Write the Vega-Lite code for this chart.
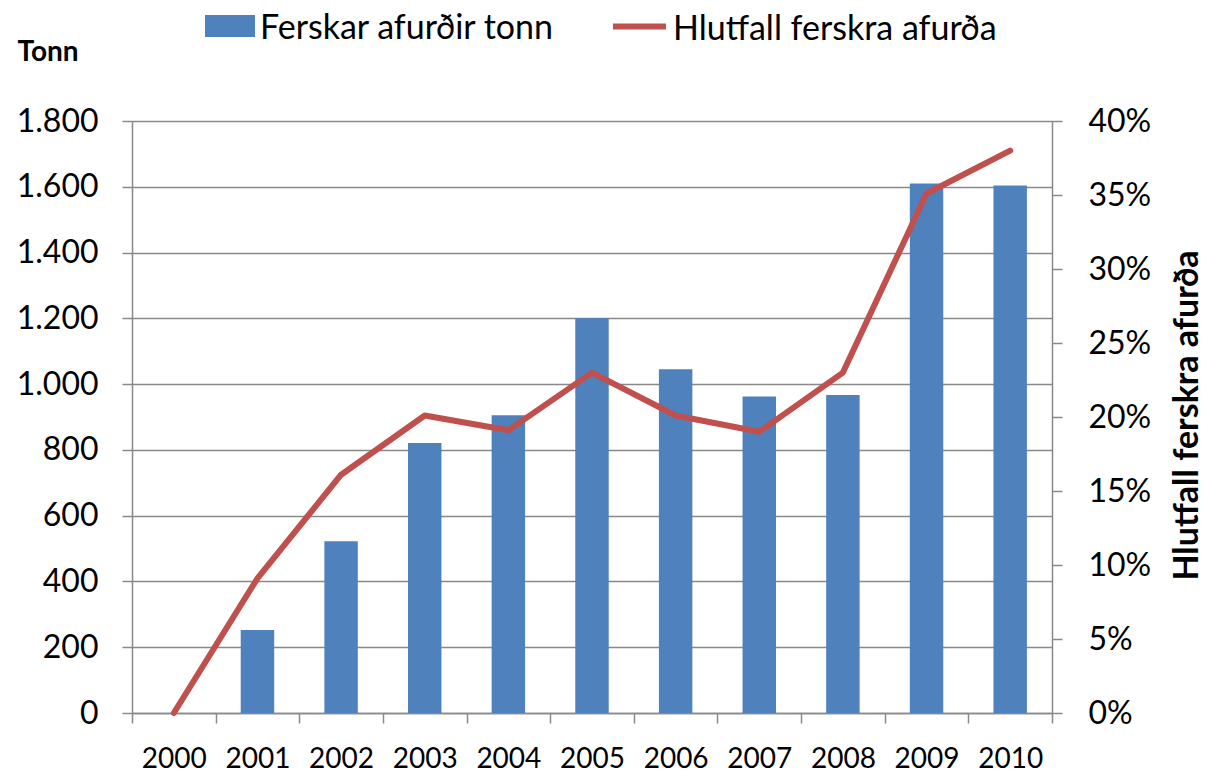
{
  "$schema": "https://vega.github.io/schema/vega-lite/v6.json",
  "autosize": {"type": "none"},
  "padding": {"left": 132, "top": 121, "right": 153, "bottom": 62},
  "width": 920,
  "height": 592,
  "config": {
    "locale": {"number": {"decimal": ",", "thousands": ".", "grouping": [3], "currency": ["", ""]}},
    "font": "Lato",
    "view": {"stroke": null},
    "axis": {
      "domainColor": "#898989",
      "domainWidth": 1.5,
      "tickColor": "#898989",
      "tickWidth": 1.5,
      "gridColor": "#898989",
      "gridWidth": 1.5,
      "labelColor": "#000000",
      "titleColor": "#000000",
      "labelFont": "Lato",
      "titleFont": "Lato"
    },
    "legend": {"labelFont": "Lato", "labelColor": "#000000", "labelLimit": 0}
  },
  "data": {
    "values": [
      {"ar": "2000", "tonn": 0, "hlutfall": 0.0},
      {"ar": "2001", "tonn": 252, "hlutfall": 0.091},
      {"ar": "2002", "tonn": 522, "hlutfall": 0.161},
      {"ar": "2003", "tonn": 821, "hlutfall": 0.201},
      {"ar": "2004", "tonn": 905, "hlutfall": 0.191},
      {"ar": "2005", "tonn": 1200, "hlutfall": 0.230},
      {"ar": "2006", "tonn": 1045, "hlutfall": 0.201},
      {"ar": "2007", "tonn": 962, "hlutfall": 0.190},
      {"ar": "2008", "tonn": 967, "hlutfall": 0.230},
      {"ar": "2009", "tonn": 1610, "hlutfall": 0.351},
      {"ar": "2010", "tonn": 1604, "hlutfall": 0.380}
    ]
  },
  "layer": [
    {
      "mark": {"type": "bar", "width": {"band": 0.4}, "color": "#4F81BD"},
      "encoding": {
        "x": {
          "field": "ar",
          "type": "ordinal",
          "scale": {"paddingInner": 0, "paddingOuter": 0},
          "axis": {
            "title": null,
            "labelAngle": 0,
            "tickBand": "extent",
            "tickSize": 10,
            "labelFontSize": 28,
            "labelPadding": 22,
            "grid": false
          }
        },
        "y": {
          "field": "tonn",
          "type": "quantitative",
          "scale": {"domain": [0, 1800], "nice": false},
          "axis": {
            "values": [0, 200, 400, 600, 800, 1000, 1200, 1400, 1600, 1800],
            "format": ",.0f",
            "grid": true,
            "tickSize": 10,
            "labelPadding": 24,
            "labelFontSize": 32,
            "title": "Tonn",
            "titleAngle": 0,
            "titleX": -115,
            "titleY": -69,
            "titleAlign": "left",
            "titleBaseline": "middle",
            "titleFontSize": 28,
            "titleFontWeight": "bold"
          }
        },
        "color": {
          "datum": "Ferskar afurðir tonn",
          "scale": {"range": ["#4F81BD"]},
          "legend": {
            "orient": "none",
            "legendX": 73,
            "legendY": -120,
            "title": null,
            "symbolType": "M-1,-0.44H1V0.44H-1Z",
            "symbolSize": 2500,
            "symbolStrokeWidth": 0,
            "symbolOpacity": 1,
            "labelFontSize": 34,
            "labelOffset": 5,
            "labelLimit": 0,
            "encode": {"labels": {"update": {"dy": {"value": 3}}}}
          }
        }
      }
    },
    {
      "mark": {"type": "line", "strokeWidth": 6, "strokeCap": "round", "strokeJoin": "round"},
      "encoding": {
        "x": {"field": "ar", "type": "ordinal"},
        "y": {
          "field": "hlutfall",
          "type": "quantitative",
          "scale": {"domain": [0, 0.4], "nice": false},
          "axis": {
            "orient": "right",
            "values": [0, 0.05, 0.1, 0.15, 0.2, 0.25, 0.3, 0.35, 0.4],
            "format": ".0%",
            "grid": false,
            "tickSize": 10,
            "labelPadding": 26,
            "labelFontSize": 32,
            "title": "Hlutfall ferskra afurða",
            "titleAngle": 270,
            "titleX": 135,
            "titleY": 294,
            "titleAlign": "center",
            "titleBaseline": "middle",
            "titleFontSize": 34,
            "titleFontWeight": "bold"
          }
        },
        "stroke": {
          "datum": "Hlutfall ferskra afurða",
          "scale": {"range": ["#C0504D"]},
          "legend": {
            "orient": "none",
            "legendX": 478,
            "legendY": -124,
            "title": null,
            "symbolType": "stroke",
            "symbolSize": 2809,
            "symbolStrokeWidth": 6,
            "labelFontSize": 34,
            "labelOffset": 4,
            "labelLimit": 0,
            "symbolStrokeColor": "#C0504D",
            "symbolStrokeCap": "round",
            "encode": {"labels": {"update": {"dy": {"value": 3}}}}
          }
        }
      }
    }
  ],
  "resolve": {"scale": {"y": "independent"}}
}
